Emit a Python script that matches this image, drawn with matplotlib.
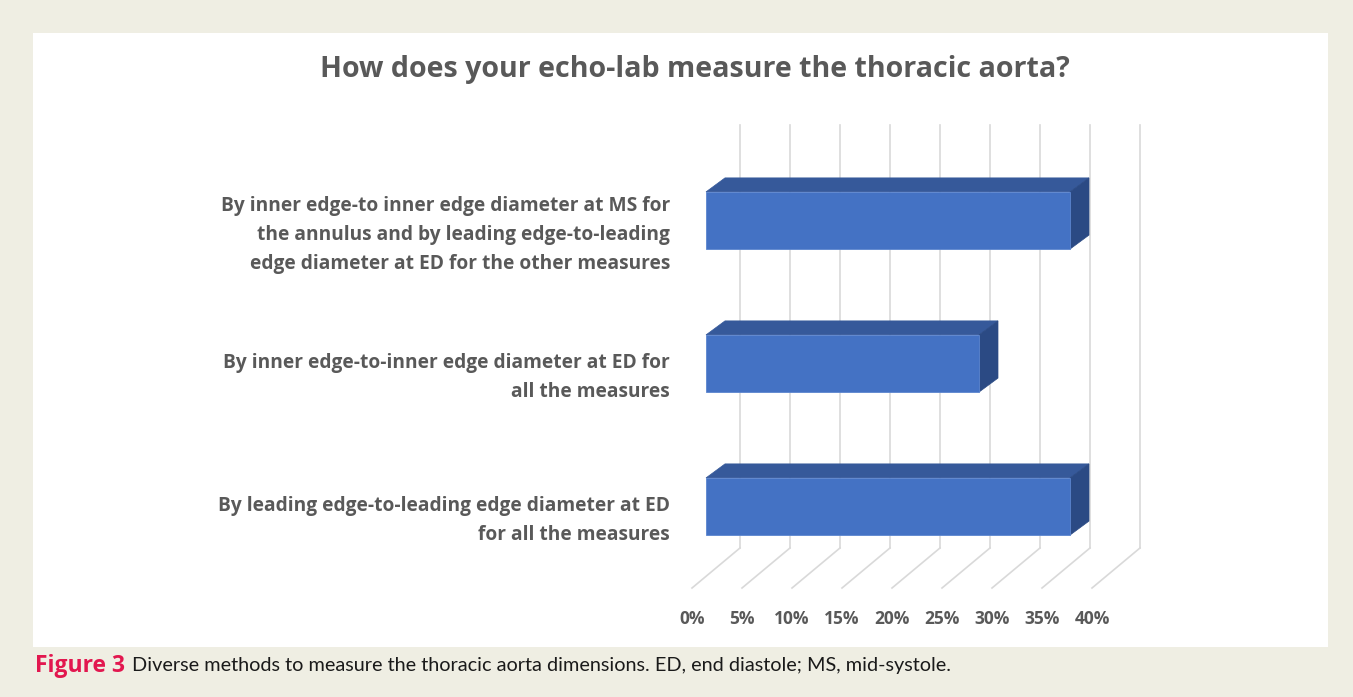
import matplotlib.pyplot as plt
from matplotlib.patches import Polygon, Rectangle

# data
categories = ['By inner edge-to inner edge diameter at MS for\nthe annulus and by leading edge-to-leading\nedge diameter at ED for the other measures',
              'By inner edge-to-inner edge diameter at ED for\nall the measures',
              'By leading edge-to-leading edge diameter at ED\nfor all the measures']
values = [36.4, 27.3, 36.4]
ticks = [0, 5, 10, 15, 20, 25, 30, 35, 40]
tick_labels = ['0%', '5%', '10%', '15%', '20%', '25%', '30%', '35%', '40%']

title = 'How does your echo-lab measure the thoracic aorta?'
caption_bold = 'Figure 3'
caption_rest = 'Diverse methods to measure the thoracic aorta dimensions. ED, end diastole; MS, mid-systole.'

W, H = 1353, 697
fig = plt.figure(figsize=(W/100, H/100), dpi=100)
fig.patch.set_facecolor('#EFEEE3')

# white panel
panel = fig.add_axes([33/W, 1-647/H, (1328-33)/W, (647-33)/H])
panel.set_facecolor('white')
panel.set_xticks([]); panel.set_yticks([])
for s in panel.spines.values():
    s.set_visible(False)

# chart axes: 1 x-unit = 10 px, 1 y-unit = 143 px, bar front 0% at px 706, cat 0 at px 220.5
x0, x1, y0, y1 = 640, 1160, 100, 640
ax = fig.add_axes([x0/W, 1-y1/H, (x1-x0)/W, (y1-y0)/H])
ax.set_xlim((x0-706)/10, (x1-706)/10)
ax.set_ylim((y1-220.5)/143, (y0-220.5)/143)
ax.axis('off')

gray = '#595959'
grid_col = '#D9D9D9'
back_shift = 3.4       # back wall relative to bar front plane
front_shift = -1.4     # front floor edge
top_y, floor_back, floor_front = -0.668, 2.29, 2.57
for t, lab in zip(ticks, tick_labels):
    xb = t + back_shift
    xf = t + front_shift
    ax.plot([xb, xb], [top_y, floor_back], color=grid_col, lw=1.2, zorder=1)
    ax.plot([xb, xf], [floor_back, floor_front], color=grid_col, lw=1.2, zorder=1)
    ax.text(xf, 2.79, lab, ha='center', va='center', fontsize=12.5,
            fontweight='bold', color=gray, family='Open Sans')

# bars
bh = 0.4
ddx, ddy = 1.9, -0.098
front_col, top_col, side_col = '#4472C4', '#36599A', '#2B4A84'
for i, (cat, v) in enumerate(zip(categories, values)):
    yt, yb = i - bh/2, i + bh/2
    ax.add_patch(Polygon([(0, yt), (v, yt), (v+ddx, yt+ddy), (ddx, yt+ddy)],
                         closed=True, facecolor=top_col, edgecolor=top_col, lw=0.5, zorder=3))
    ax.add_patch(Polygon([(v, yt), (v+ddx, yt+ddy), (v+ddx, yb+ddy), (v, yb)],
                         closed=True, facecolor=side_col, edgecolor=side_col, lw=0.5, zorder=3))
    ax.add_patch(Rectangle((0, yt), v, bh, facecolor=front_col, edgecolor='#5B85CF',
                           lw=0.6, zorder=4))
    ax.text(-3.6, i + 0.1, cat, ha='right', va='center', fontsize=13.8, fontweight='bold',
            color=gray, family='Open Sans', linespacing=1.6, clip_on=False)

fig.text(695/W, 1-70/H, title, ha='center', va='center', fontsize=20.6,
         fontweight='bold', color=gray, family='Open Sans')

# caption
t1 = fig.text(35/W, 1-666/H, caption_bold, ha='left', va='center', fontsize=16.5,
              fontweight='bold', color='#E2174F', family='Open Sans')
fig.canvas.draw()
bb = t1.get_window_extent()
fig.text((bb.x1 + 7)/W, 1-666/H, caption_rest, ha='left', va='center', fontsize=14.3,
         color='#1A1A1A', family='Lato')

fig.savefig('out.png', dpi=100, facecolor=fig.get_facecolor())
